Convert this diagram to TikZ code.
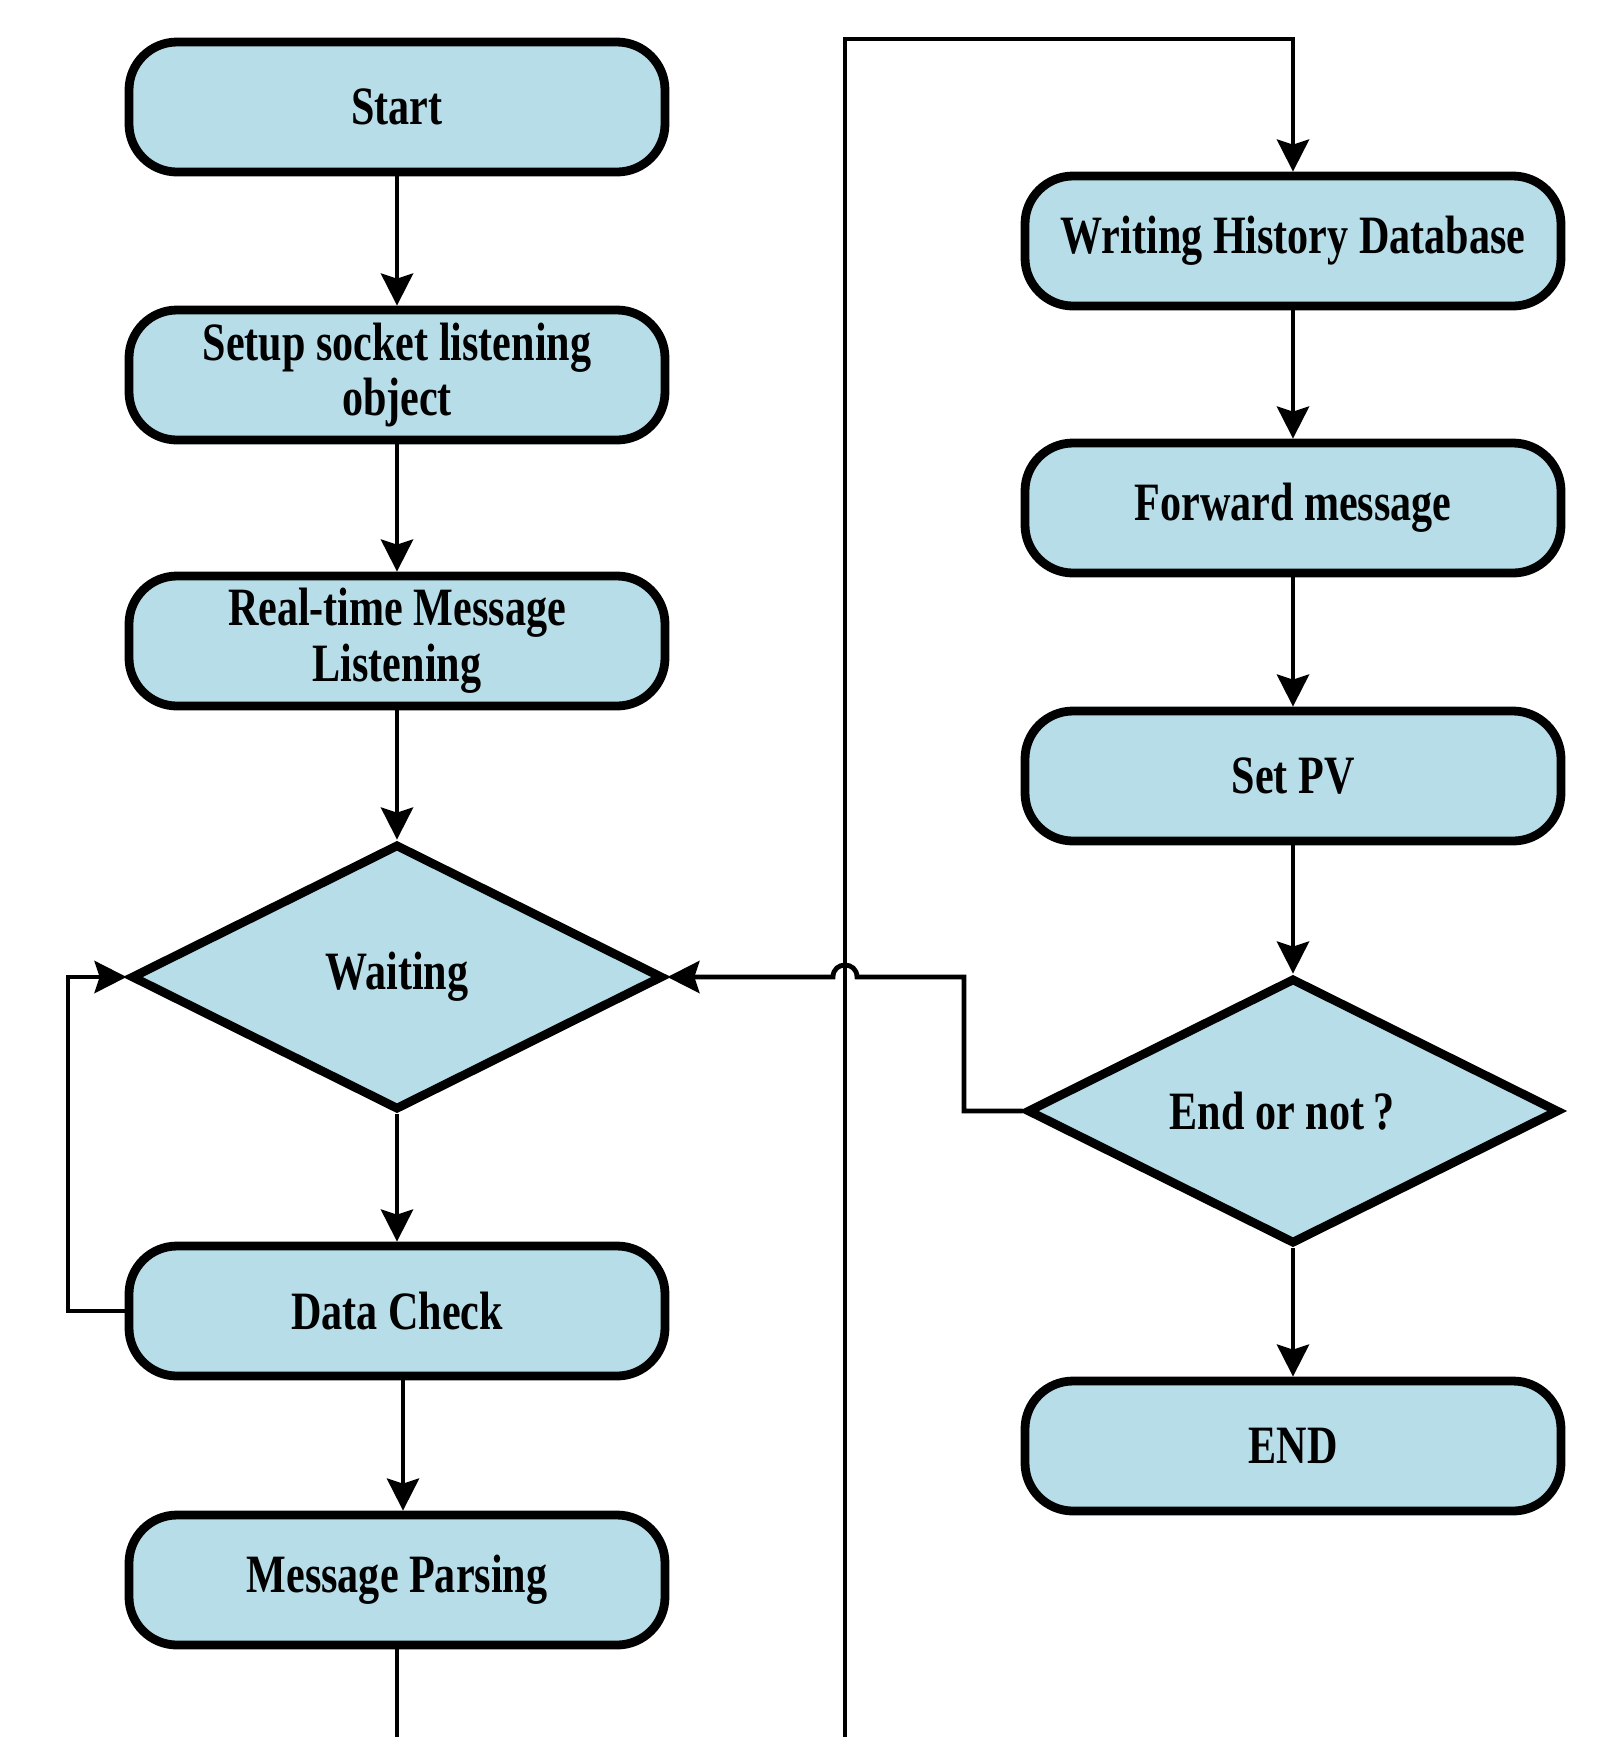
\documentclass[tikz,border=0pt]{standalone}
\usepackage{fontspec}
\setmainfont{Liberation Serif}[FakeStretch=0.78]
\usetikzlibrary{shapes.geometric,arrows.meta}
\definecolor{boxfill}{HTML}{B6DDE8}
\tikzset{
  stepbox/.style={draw=black, line width=4.4pt, fill=boxfill, rounded corners=24pt,
    minimum width=268pt, minimum height=65pt, inner sep=2pt, align=center,
    font=\fontsize{27}{28}\selectfont\bfseries},
  decision/.style={draw=black, line width=4.4pt, fill=boxfill, diamond,
    minimum width=266pt, minimum height=133pt, inner sep=0pt, align=center,
    font=\fontsize{27}{28}\selectfont\bfseries},
  conn/.style={line width=2.4pt, line join=miter},
  flow/.style={conn, -{Stealth[length=16pt, width=16pt, inset=2.5pt]}},
}
\begin{document}
\begin{tikzpicture}[x=0.5pt, y=-0.5pt]
\useasboundingbox (0,0) rectangle (1606,1737);

% left column
\node[stepbox] (start) at (397,107) {Start};
\node[stepbox] (setup) at (397,375) {Setup socket listening\\object};
\node[stepbox] (listen) at (397,641) {Real-time Message\\Listening};
\node[decision] (wait) at (397,977) {Waiting};
\node[stepbox] (check) at (397,1311) {Data Check};
\node[stepbox] (parse) at (397,1580) {Message Parsing};

% right column
\node[stepbox] (hist) at (1293,241) {Writing History Database};
\node[stepbox] (fwd) at (1293,508) {Forward message};
\node[stepbox] (setpv) at (1293,776) {Set PV};
\node[decision] (endq) at (1293,1111) {\hspace*{-11pt}End or not\,?};
\node[stepbox] (finish) at (1293,1446) {END};

% connector end points and bends
\coordinate (bottom) at (0,1737);
\coordinate (busbot) at (845,1737);
\coordinate (bustop) at (845,39);
\coordinate (loopx) at (68,977);
\coordinate (backx) at (964,977);
\coordinate (hopR) at (857,977);
\coordinate (hopL) at (833,977);

% main flow, left column
\draw[flow] (start) -- (setup);
\draw[flow] (setup) -- (listen);
\draw[flow] (listen) -- (wait);
\draw[flow] (wait) -- (check);
\draw[flow] ([xshift=3pt]check.south) -- ([xshift=3pt]parse.north);
\draw[conn] (parse.south) -- (parse.south |- bottom);

% retry loop from the data check
\draw[flow] (check.west) -| (loopx) -- (wait.west);

% long bus to the right column
\draw[flow] (busbot) -- (bustop) -| (hist.north);

% main flow, right column
\draw[flow] (hist) -- (fwd);
\draw[flow] (fwd) -- (setpv);
\draw[flow] (setpv) -- (endq);
\draw[flow] (endq) -- (finish);

% return to waiting, hopping over the bus
\draw[flow] (endq.west) -| (backx) -- (hopR)
  .. controls +(0,-16) and +(0,-16) .. (hopL) -- (wait.east);
\end{tikzpicture}
\end{document}
